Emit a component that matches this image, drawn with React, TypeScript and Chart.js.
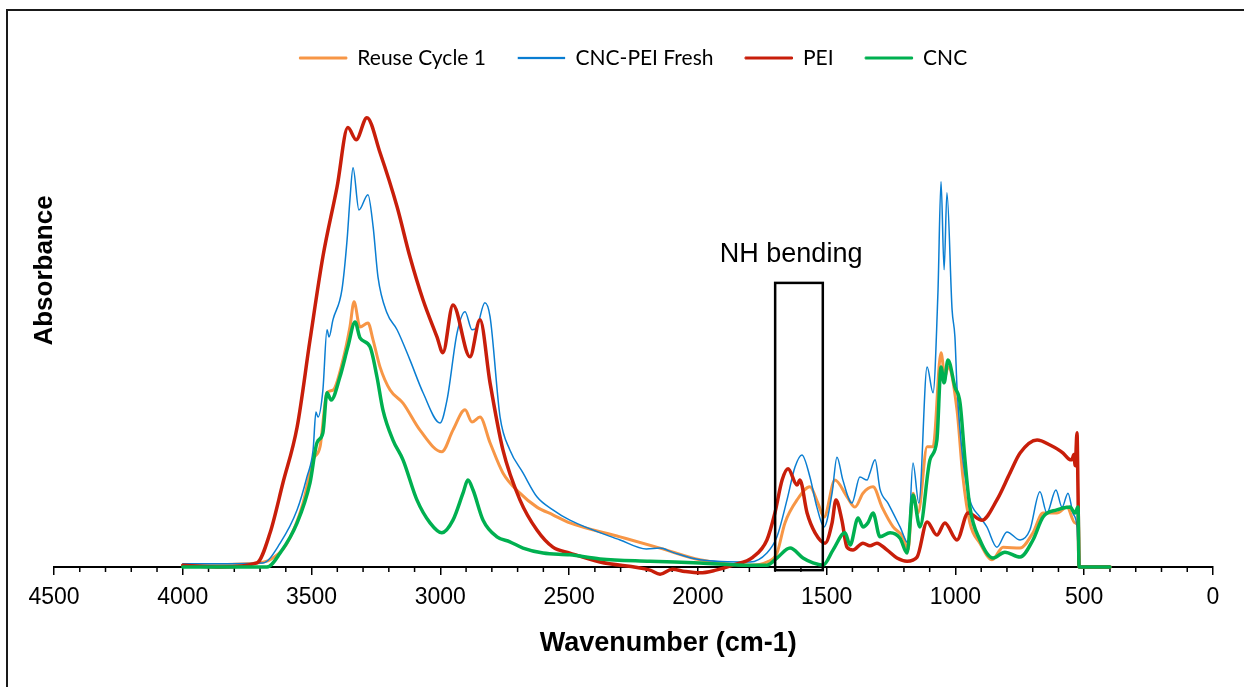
import React, { useEffect, useRef } from 'react';
import { Chart, registerables } from 'chart.js';

Chart.register(...registerables);

// ---- Data (wavenumber cm-1, absorbance a.u.) ----
const SERIES_LABELS = ['Reuse Cycle 1', 'CNC-PEI Fresh', 'PEI', 'CNC'];
const SERIES_COLORS = ['#F79646', '#0A7ED2', '#C81E0A', '#00B050'];
const SERIES_WIDTHS = [3, 1.5, 3.5, 3.5];

const reuseCycle1: [number, number][] = [
  [4000, 0.004], [3712, 0.009], [3661, 0.016], [3595, 0.053], [3533, 0.142], [3494, 0.238], [3467, 0.267],
  [3440, 0.387], [3417, 0.393], [3378, 0.46], [3351, 0.533], [3335, 0.589], [3312, 0.533], [3281, 0.542],
  [3261, 0.504], [3234, 0.444], [3195, 0.393], [3145, 0.364], [3079, 0.304], [2994, 0.256], [2951, 0.304],
  [2904, 0.349], [2877, 0.322], [2846, 0.333], [2807, 0.276], [2757, 0.209], [2691, 0.164], [2625, 0.133],
  [2563, 0.116], [2497, 0.098], [2302, 0.067], [2147, 0.042], [1992, 0.016], [1798, 0.004], [1732, 0.011],
  [1693, 0.031], [1662, 0.098], [1615, 0.149], [1565, 0.178], [1534, 0.142], [1510, 0.111], [1468, 0.193],
  [1421, 0.156], [1390, 0.133], [1359, 0.164], [1320, 0.178], [1285, 0.133], [1242, 0.089], [1204, 0.067],
  [1184, 0.038], [1165, 0.164], [1145, 0.12], [1110, 0.267], [1087, 0.267], [1056, 0.476], [1041, 0.422],
  [1029, 0.444], [994, 0.349], [971, 0.2], [944, 0.098], [905, 0.053], [858, 0.016], [815, 0.044],
  [749, 0.042], [699, 0.076], [660, 0.12], [606, 0.12], [567, 0.133], [536, 0.098], [522, 0.09],
  [520, 0], [400, 0],
];

const cncPeiFresh: [number, number][] = [
  [4000, 0.007], [3689, 0.009], [3622, 0.053], [3556, 0.127], [3518, 0.2], [3494, 0.26], [3483, 0.344],
  [3475, 0.333], [3456, 0.393], [3440, 0.527], [3432, 0.511], [3417, 0.549], [3382, 0.616], [3362, 0.727],
  [3351, 0.816], [3339, 0.887], [3316, 0.793], [3281, 0.827], [3261, 0.756], [3242, 0.644], [3207, 0.564],
  [3168, 0.527], [3118, 0.46], [3067, 0.387], [3001, 0.32], [2974, 0.371], [2935, 0.52], [2904, 0.567],
  [2877, 0.527], [2858, 0.533], [2827, 0.587], [2807, 0.556], [2768, 0.333], [2730, 0.26], [2679, 0.209],
  [2625, 0.156], [2563, 0.127], [2497, 0.104], [2302, 0.06], [2200, 0.04], [2147, 0.042], [2100, 0.033],
  [1992, 0.016], [1798, 0.011], [1732, 0.031], [1693, 0.067], [1654, 0.149], [1623, 0.222], [1596, 0.249],
  [1565, 0.2], [1538, 0.133], [1510, 0.089], [1479, 0.164], [1460, 0.244], [1437, 0.193], [1402, 0.142],
  [1371, 0.2], [1343, 0.193], [1332, 0.209], [1312, 0.238], [1293, 0.173], [1262, 0.142], [1215, 0.089],
  [1184, 0.053], [1165, 0.231], [1142, 0.142], [1110, 0.444], [1087, 0.387], [1068, 0.609], [1056, 0.856],
  [1044, 0.66], [1033, 0.831], [1013, 0.571], [1002, 0.511], [994, 0.4], [971, 0.238], [944, 0.149],
  [905, 0.111], [878, 0.089], [839, 0.044], [800, 0.078], [749, 0.06], [711, 0.082], [672, 0.167],
  [645, 0.12], [610, 0.171], [586, 0.133], [563, 0.164], [544, 0.12], [528, 0.089], [520, 0], [400, 0],
];

const pei: [number, number][] = [
  [4000, 0.004], [3850, 0.0], [3712, 0.009], [3661, 0.076], [3611, 0.187], [3556, 0.311], [3506, 0.504],
  [3456, 0.689], [3401, 0.844], [3359, 0.976], [3327, 0.949], [3285, 0.998], [3234, 0.92], [3168, 0.8],
  [3118, 0.689], [3067, 0.593], [3013, 0.511], [2990, 0.476], [2951, 0.582], [2885, 0.467], [2846, 0.549],
  [2807, 0.409], [2757, 0.26], [2691, 0.149], [2625, 0.082], [2563, 0.044], [2497, 0.031], [2380, 0.011],
  [2186, -0.007], [2147, -0.016], [2100, -0.005], [2050, -0.01], [1992, -0.013], [1930, -0.007],
  [1864, 0.004], [1786, 0.022], [1732, 0.06], [1701, 0.12], [1673, 0.193], [1650, 0.218], [1615, 0.182],
  [1604, 0.193], [1576, 0.12], [1545, 0.076], [1506, 0.053], [1479, 0.098], [1464, 0.149], [1441, 0.104],
  [1421, 0.044], [1398, 0.038], [1359, 0.053], [1332, 0.047], [1305, 0.053], [1266, 0.038], [1227, 0.02],
  [1188, 0.013], [1149, 0.022], [1110, 0.1], [1072, 0.071], [1041, 0.098], [994, 0.06], [951, 0.12],
  [897, 0.104], [839, 0.149], [788, 0.209], [749, 0.253], [683, 0.282], [633, 0.271], [582, 0.253],
  [560, 0.24], [548, 0.238], [540, 0.25], [535, 0.225], [528, 0.298], [524, 0.164], [520, 0], [400, 0],
];

const cnc: [number, number][] = [
  [4000, 0], [3673, 0], [3622, 0.031], [3556, 0.098], [3506, 0.187], [3479, 0.276], [3456, 0.298],
  [3440, 0.387], [3424, 0.371], [3390, 0.422], [3359, 0.489], [3331, 0.544], [3312, 0.509], [3273, 0.489],
  [3246, 0.422], [3223, 0.349], [3184, 0.282], [3145, 0.238], [3091, 0.149], [3040, 0.098], [2994, 0.076],
  [2951, 0.104], [2912, 0.164], [2893, 0.193], [2873, 0.171], [2834, 0.104], [2780, 0.067], [2730, 0.056],
  [2679, 0.042], [2601, 0.031], [2497, 0.027], [2380, 0.018], [2186, 0.013], [1992, 0.009], [1798, 0.004],
  [1732, 0.004], [1693, 0.02], [1642, 0.042], [1592, 0.02], [1553, 0.009], [1514, 0.004], [1475, 0.038],
  [1429, 0.076], [1409, 0.049], [1378, 0.109], [1359, 0.089], [1340, 0.098], [1320, 0.12], [1293, 0.067],
  [1254, 0.076], [1215, 0.064], [1188, 0.031], [1165, 0.16], [1138, 0.089], [1099, 0.238], [1072, 0.282],
  [1056, 0.444], [1044, 0.409], [1029, 0.46], [1002, 0.4], [982, 0.364], [963, 0.238], [944, 0.133],
  [905, 0.06], [854, 0.02], [808, 0.033], [749, 0.022], [699, 0.06], [660, 0.111], [606, 0.127],
  [555, 0.133], [536, 0.12], [524, 0.133], [520, 0], [400, 0],
];

const SERIES_DATA = [reuseCycle1, cncPeiFresh, pei, cnc];
const DRAW_ORDER = [4, 3, 2, 1]; // later series drawn on top

// ---- Axes ----
const X_MIN = 0;
const X_MAX = 4500;
const X_MAJOR_STEP = 500;
const X_MINOR_STEP = 100;
const Y_MIN = 0;
const Y_MAX = 1.085;
const X_TITLE = 'Wavenumber (cm-1)';
const Y_TITLE = 'Absorbance';

// ---- Annotation ----
const NH_BOX = { from: 1700, to: 1515, low: -0.007, high: 0.631 };
const NH_LABEL = { text: 'NH bending', x: 1638, y: 0.693 };

const FONT = '"Liberation Sans", Arial, sans-serif';

const minorTicksPlugin = {
  id: 'minorTicks',
  beforeDatasetsDraw(chart: any) {
    const xs = chart.scales.x;
    const bottom = chart.chartArea.bottom;
    const ctx = chart.ctx;
    ctx.save();
    ctx.strokeStyle = '#000';
    ctx.lineWidth = 1.5;
    ctx.beginPath();
    for (let v = X_MIN + X_MINOR_STEP; v < X_MAX; v += X_MINOR_STEP) {
      if (v % X_MAJOR_STEP === 0) continue;
      const px = xs.getPixelForValue(v);
      ctx.moveTo(px, bottom);
      ctx.lineTo(px, bottom + 5);
    }
    ctx.stroke();
    ctx.restore();
  },
};

const axisTitlesPlugin = {
  id: 'axisTitles',
  afterDraw(chart: any) {
    const { ctx, chartArea } = chart;
    ctx.save();
    ctx.fillStyle = '#000';
    ctx.textAlign = 'center';
    ctx.textBaseline = 'middle';
    // x title, below tick labels
    ctx.font = `bold 27px ${FONT}`;
    ctx.fillText(X_TITLE, chartArea.left + chartArea.width * 0.53, chartArea.bottom + 77);
    // y title, rotated
    ctx.font = `bold 26px ${FONT}`;
    ctx.translate(chartArea.left - 9, chartArea.top + chartArea.height * 0.393);
    ctx.rotate(-Math.PI / 2);
    ctx.fillText(Y_TITLE, 0, 0);
    ctx.restore();
  },
};

const annotationPlugin = {
  id: 'nhAnnotation',
  afterDatasetsDraw(chart: any) {
    const xs = chart.scales.x;
    const ys = chart.scales.y;
    const ctx = chart.ctx;
    const x1 = xs.getPixelForValue(NH_BOX.from);
    const x2 = xs.getPixelForValue(NH_BOX.to);
    const y1 = ys.getPixelForValue(NH_BOX.high);
    const y2 = ys.getPixelForValue(NH_BOX.low);
    ctx.save();
    ctx.strokeStyle = '#000';
    ctx.lineWidth = 2.5;
    ctx.strokeRect(x1, y1, x2 - x1, y2 - y1);
    ctx.fillStyle = '#000';
    ctx.font = `27px ${FONT}`;
    ctx.textAlign = 'center';
    ctx.textBaseline = 'middle';
    ctx.fillText(NH_LABEL.text, xs.getPixelForValue(NH_LABEL.x), ys.getPixelForValue(NH_LABEL.y));
    ctx.restore();
  },
};

export default function App() {
  const canvasRef = useRef<HTMLCanvasElement | null>(null);

  useEffect(() => {
    if (!canvasRef.current) return;
    const chart = new Chart(canvasRef.current, {
      type: 'line',
      data: {
        datasets: SERIES_LABELS.map((label, i) => ({
          label,
          data: SERIES_DATA[i].map(([x, y]) => ({ x, y })),
          borderColor: SERIES_COLORS[i],
          backgroundColor: SERIES_COLORS[i],
          borderWidth: SERIES_WIDTHS[i],
          pointRadius: 0,
          pointHoverRadius: 0,
          cubicInterpolationMode: 'monotone' as const,
          borderJoinStyle: 'round' as const,
          borderCapStyle: 'round' as const,
          fill: false,
          clip: false as any,
          order: DRAW_ORDER[i],
        })),
      },
      options: {
        responsive: false,
        animation: false,
        devicePixelRatio: 1,
        events: [],
        layout: { padding: { left: 54, right: 31, top: 15.5, bottom: 66 } },
        plugins: {
          tooltip: { enabled: false },
          legend: {
            display: true,
            position: 'top',
            align: 'center',
            fullSize: false,
            labels: {
              color: '#000',
              font: { family: 'Lato, "Liberation Sans", sans-serif', size: 21 },
              boxWidth: 47,
              boxHeight: 2,
              padding: 32,
              sort: (a: any, b: any) => a.datasetIndex - b.datasetIndex,
              generateLabels: (c: any) => {
                const items = (Chart as any).defaults.plugins.legend.labels.generateLabels(c);
                return items.map((it: any) => ({ ...it, lineWidth: it.lineWidth >= 3 ? 1 : 0.25 }));
              },
            },
          },
        },
        scales: {
          x: {
            type: 'linear',
            position: 'bottom',
            reverse: true,
            min: X_MIN,
            max: X_MAX,
            ticks: {
              stepSize: X_MAJOR_STEP,
              autoSkip: false,
              maxRotation: 0,
              padding: 9.2,
              color: '#000',
              font: { family: FONT, size: 23 },
              callback: (v: any) => String(v),
            },
            grid: {
              drawOnChartArea: false,
              drawTicks: true,
              tickLength: 8,
              color: '#000',
              lineWidth: 1.5,
            },
            border: { display: true, color: '#000', width: 2 },
            title: { display: false },
          },
          y: {
            type: 'linear',
            display: false,
            min: Y_MIN,
            max: Y_MAX,
          },
        },
      },
      plugins: [minorTicksPlugin, annotationPlugin, axisTitlesPlugin],
    } as any);
    return () => chart.destroy();
  }, []);

  return (
    <div style={{ position: 'fixed', left: 0, top: 0, width: 1244, height: 687, overflow: 'hidden', background: '#fff' }}>
      <canvas
        ref={canvasRef}
        width={1244}
        height={687}
        style={{ position: 'absolute', left: 0, top: 0, width: 1244, height: 687 }}
      />
      <div
        style={{
          position: 'absolute',
          left: 6,
          top: 9,
          width: 1300,
          height: 800,
          borderTop: '2px solid #1a1a1a',
          borderLeft: '2px solid #1a1a1a',
          pointerEvents: 'none',
        }}
      />
    </div>
  );
}
